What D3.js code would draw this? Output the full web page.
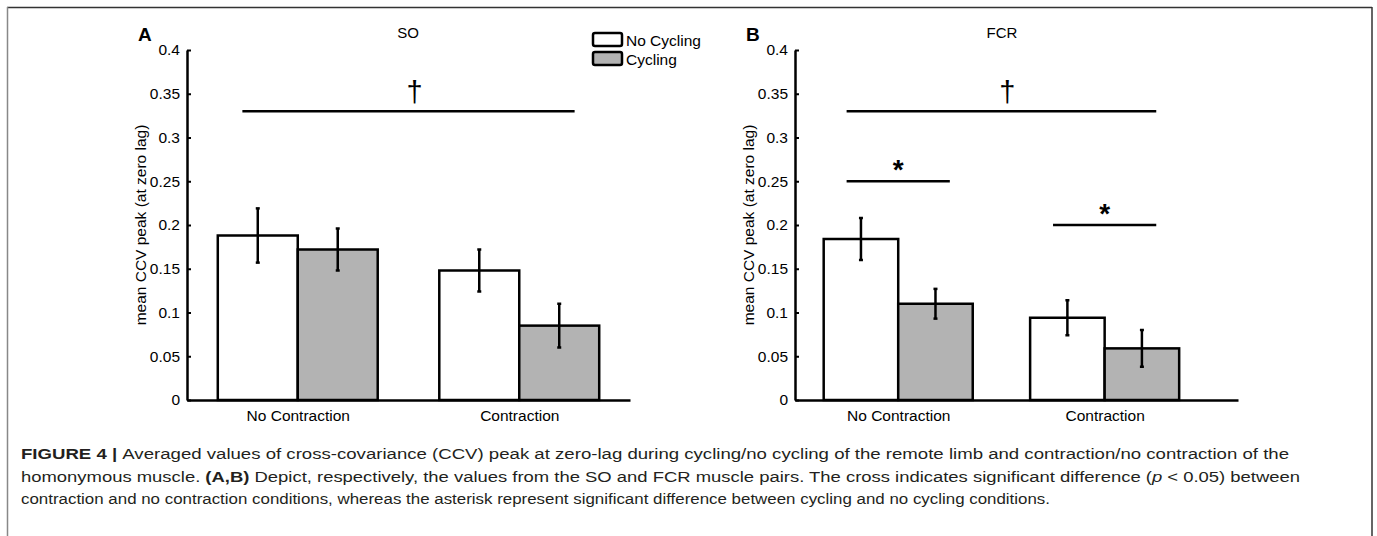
<!DOCTYPE html>
<html>
<head>
<meta charset="utf-8">
<script src="https://cdn.jsdelivr.net/npm/d3@7"></script>
<style>
  html, body { margin: 0; padding: 0; background: #fff; }
  svg { display: block; }
</style>
</head>
<body>
<svg id="chart" width="1377" height="536"></svg>
<script>
// ---------- data ----------
const categories = ["No Contraction", "Contraction"];
const seriesNames = ["No Cycling", "Cycling"];
const seriesColors = ["#ffffff", "#b3b3b3"];

const soNoCycling = [0.188, 0.148];
const soCycling = [0.172, 0.085];
const soNoCyclingErr = [0.031, 0.024];
const soCyclingErr = [0.024, 0.025];

const fcrNoCycling = [0.184, 0.094];
const fcrCycling = [0.110, 0.059];
const fcrNoCyclingErr = [0.024, 0.020];
const fcrCyclingErr = [0.017, 0.021];

const yTicks = [0, 0.05, 0.1, 0.15, 0.2, 0.25, 0.3, 0.35, 0.4];
const yTickLabels = ["0", "0.05", "0.1", "0.15", "0.2", "0.25", "0.3", "0.35", "0.4"];

const soSig = [{ from: 0.75, to: 2.25, y: 0.33, mark: "†" }];
const fcrSig = [
  { from: 0.75, to: 2.25, y: 0.33, mark: "†" },
  { from: 0.75, to: 1.25, y: 0.25, mark: "*" },
  { from: 1.75, to: 2.25, y: 0.20, mark: "*" }
];

const yLabel = "mean CCV peak (at zero lag)";
const captionLines = [
  [{ t: "FIGURE 4 | ", b: true }, { t: "Averaged values of cross-covariance (CCV) peak at zero-lag during cycling/no cycling of the remote limb and contraction/no contraction of the" }],
  [{ t: "homonymous muscle. " }, { t: "(A,B)", b: true }, { t: " Depict, respectively, the values from the SO and FCR muscle pairs. The cross indicates significant difference (" }, { t: "p", i: true }, { t: " < 0.05) between" }],
  [{ t: "contraction and no contraction conditions, whereas the asterisk represent significant difference between cycling and no cycling conditions." }]
];
const captionWidths = [1268, 1279, 1029];

// ---------- drawing ----------
const svg = d3.select("#chart");
const FONT = "'Liberation Sans', Arial, sans-serif";

// figure frame
svg.append("line").attr("x1", 7).attr("x2", 1372).attr("y1", 7.5).attr("y2", 7.5)
  .attr("stroke", "#333").attr("stroke-width", 1.5);
svg.append("line").attr("x1", 7.5).attr("x2", 7.5).attr("y1", 7).attr("y2", 536)
  .attr("stroke", "#888").attr("stroke-width", 1.5);
svg.append("line").attr("x1", 1372).attr("x2", 1372).attr("y1", 7).attr("y2", 536)
  .attr("stroke", "#333").attr("stroke-width", 1.5);

function panel(opts) {
  const g = svg.append("g");
  const x = d3.scaleLinear().domain([0.5, opts.xMax]).range([opts.left, opts.right]);
  const y = d3.scaleLinear().domain([0, 0.4]).range([400, 50]);
  const barW = 0.361;

  const series = [
    { vals: opts.noCyc, errs: opts.noCycErr, color: seriesColors[0], off: -barW / 2 },
    { vals: opts.cyc, errs: opts.cycErr, color: seriesColors[1], off: barW / 2 }
  ];
  series.forEach(s => {
    categories.forEach((c, i) => {
      const cx = i + 1 + s.off;
      g.append("rect")
        .attr("x", x(cx - barW / 2)).attr("width", x(cx + barW / 2) - x(cx - barW / 2))
        .attr("y", y(s.vals[i])).attr("height", y(0) - y(s.vals[i]))
        .attr("fill", s.color).attr("stroke", "#000").attr("stroke-width", 2.5);
    });
  });
  series.forEach(s => {
    categories.forEach((c, i) => {
      const px = x(i + 1 + s.off);
      const top = y(s.vals[i] + s.errs[i]), bot = y(s.vals[i] - s.errs[i]);
      g.append("line").attr("x1", px).attr("x2", px).attr("y1", top).attr("y2", bot)
        .attr("stroke", "#000").attr("stroke-width", 2.5);
      [top, bot].forEach(yy => g.append("line").attr("x1", px - 2).attr("x2", px + 2)
        .attr("y1", yy).attr("y2", yy).attr("stroke", "#000").attr("stroke-width", 2.5));
    });
  });

  const yAxis = d3.axisLeft(y).tickValues(yTicks).tickFormat((d, i) => yTickLabels[i])
    .tickSizeInner(-4).tickSizeOuter(0).tickPadding(7);
  const ya = g.append("g").attr("transform", `translate(${opts.left},0)`).call(yAxis);
  ya.select(".domain").attr("stroke", "#000").attr("stroke-width", 2.5);
  ya.selectAll(".tick line").attr("stroke", "#000").attr("stroke-width", 2);
  ya.selectAll(".tick text").attr("font-family", FONT).attr("font-size", 15.5).attr("fill", "#000");

  const xAxis = d3.axisBottom(x).tickValues([1, 2]).tickFormat((d, i) => categories[i])
    .tickSize(0).tickSizeOuter(0).tickPadding(10);
  const xa = g.append("g").attr("transform", `translate(0,${y(0)})`).call(xAxis);
  xa.select(".domain").attr("stroke", "#000").attr("stroke-width", 2.5);
  xa.selectAll(".tick text").attr("font-family", FONT).attr("font-size", 15.5).attr("fill", "#000");

  g.append("text").attr("transform", `translate(${opts.left - 41},${y(0.2)}) rotate(-90)`)
    .attr("text-anchor", "middle").attr("font-family", FONT).attr("font-size", 15.5)
    .attr("fill", "#000").text(yLabel);

  g.append("text").attr("x", opts.titleX).attr("y", 38).attr("text-anchor", "middle")
    .attr("font-family", FONT).attr("font-size", 15).attr("fill", "#000").text(opts.title);

  g.append("text").attr("x", opts.left - 49).attr("y", 41)
    .attr("font-family", FONT).attr("font-size", 19).attr("font-weight", "bold")
    .attr("fill", "#000").text(opts.letter);

  opts.sig.forEach(s => {
    g.append("line").attr("x1", x(s.from)).attr("x2", x(s.to)).attr("y1", y(s.y)).attr("y2", y(s.y))
      .attr("stroke", "#000").attr("stroke-width", 2.5);
    const mid = (s.from + s.to) / 2;
    if (s.mark === "†") {
      g.append("text").attr("x", x(mid) + 6).attr("y", y(s.y) - 9).attr("text-anchor", "middle")
        .attr("font-family", FONT).attr("font-size", 29).attr("fill", "#000").text(s.mark);
    } else {
      g.append("text").attr("x", x(mid)).attr("y", y(s.y) - 2).attr("text-anchor", "middle")
        .attr("font-family", FONT).attr("font-size", 28).attr("font-weight", "bold")
        .attr("fill", "#000").text(s.mark);
    }
  });
  return g;
}

panel({ left: 187, right: 630, xMax: 2.5, title: "SO", titleX: 408, letter: "A",
  noCyc: soNoCycling, cyc: soCycling, noCycErr: soNoCyclingErr, cycErr: soCyclingErr, sig: soSig });
panel({ left: 795, right: 1238, xMax: 2.646, title: "FCR", titleX: 1002, letter: "B",
  noCyc: fcrNoCycling, cyc: fcrCycling, noCycErr: fcrNoCyclingErr, cycErr: fcrCyclingErr, sig: fcrSig });

// legend
const leg = svg.append("g");
seriesNames.forEach((n, i) => {
  leg.append("rect").attr("x", 593).attr("y", 33 + i * 19).attr("width", 29).attr("height", 13)
    .attr("rx", 2).attr("fill", seriesColors[i]).attr("stroke", "#000").attr("stroke-width", 2.5);
  leg.append("text").attr("x", 626).attr("y", 45.5 + i * 19)
    .attr("font-family", FONT).attr("font-size", 15.5).attr("fill", "#000").text(n);
});

// caption
const cap = svg.append("g");
captionLines.forEach((line, i) => {
  const t = cap.append("text").attr("x", 21).attr("y", 459 + i * 22.5)
    .attr("font-family", "'Liberation Sans Narrow', 'Liberation Sans', Arial, sans-serif")
    .attr("font-size", 15.5).attr("fill", "#231f20")
    .attr("textLength", captionWidths[i]).attr("lengthAdjust", "spacingAndGlyphs");
  line.forEach(seg => {
    t.append("tspan").attr("font-weight", seg.b ? "bold" : null)
      .attr("font-style", seg.i ? "italic" : null).text(seg.t);
  });
});
</script>
</body>
</html>
